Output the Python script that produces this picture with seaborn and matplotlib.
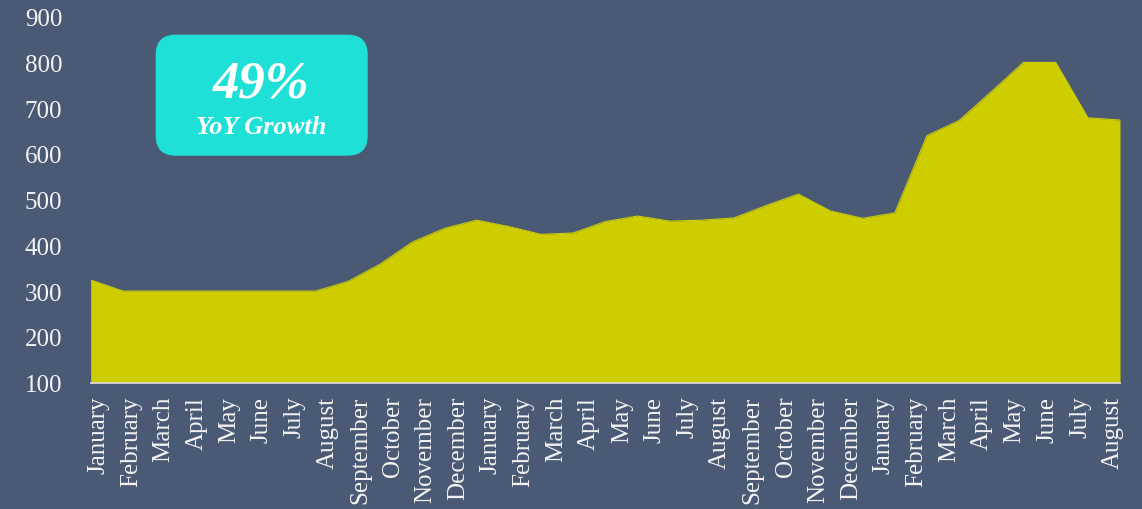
import numpy as np
import pandas as pd
import matplotlib
matplotlib.use("Agg")
import matplotlib.pyplot as plt
import seaborn as sns
from matplotlib.patches import FancyBboxPatch
from matplotlib.transforms import IdentityTransform

# ---- data ----
months = ["January", "February", "March", "April", "May", "June", "July", "August",
          "September", "October", "November", "December",
          "January", "February", "March", "April", "May", "June", "July", "August",
          "September", "October", "November", "December",
          "January", "February", "March", "April", "May", "June", "July", "August"]
values = [324, 300, 300, 300, 300, 300, 300, 300, 321, 359, 407, 437, 455, 441, 424, 427,
          452, 464, 453, 455, 460, 487, 512, 475, 459, 471, 640, 673, 736, 800, 800, 679, 674]
y_ticks = [100, 200, 300, 400, 500, 600, 700, 800, 900]
badge_value = "49%"
badge_label = "YoY Growth"

BG = "#4a5a74"
AREA = "#cdcd00"
BADGE = "#1ee0d6"
TXT = "#f2f2f2"

sns.set_theme(style="white")
plt.rcParams["font.family"] = ["Liberation Serif", "DejaVu Serif"]

df = pd.DataFrame({"pos": np.arange(len(values)), "value": values})

fig = plt.figure(figsize=(11.42, 5.10), dpi=100)
fig.patch.set_facecolor(BG)
ax = fig.add_axes([90.7 / 1142, 1 - 383.5 / 510, (1120 - 90.7) / 1142, (383.5 - 17.7) / 510])
ax.set_facecolor("none")

sns.lineplot(data=df, x="pos", y="value", ax=ax, color=AREA, linewidth=0.8)
ax.fill_between(df["pos"], 100, df["value"], color=AREA, linewidth=0)

ax.set_xlim(0, len(values) - 1)
ax.set_ylim(100, 900)
ax.set_xlabel("")
ax.set_ylabel("")

ax.set_yticks(y_ticks)
ax.set_yticklabels([str(v) for v in y_ticks], fontsize=18, color=TXT)
ax.tick_params(axis="y", length=0, pad=20.5)

label_pos = np.linspace(0.23, 31.78, len(months))
ax.set_xticks(label_pos)
ax.set_xticklabels(months, rotation=90, fontsize=18, color=TXT, va="top", ha="center")
ax.tick_params(axis="x", which="major", length=0, pad=9.5)
ax.set_xticks(np.arange(len(values)), minor=True)
ax.tick_params(axis="x", which="minor", length=2.5, width=1, color="#d9d9d9", direction="out")

for s in ["top", "right", "left"]:
    ax.spines[s].set_visible(False)
ax.spines["bottom"].set_color("#d9d9d9")
ax.spines["bottom"].set_linewidth(1.3)
ax.grid(False)

# badge
H = 510
badge = FancyBboxPatch((155.7, H - 156.7), 212, 121,
                       boxstyle="round,pad=0,rounding_size=20",
                       transform=IdentityTransform(), facecolor=BADGE, edgecolor="none",
                       zorder=5)
fig.patches.append(badge)
fig.text(261.5 / 1142, 1 - 84 / 510, badge_value, fontsize=38, fontweight="bold",
         fontstyle="italic", color="white", ha="center", va="center", zorder=6)
fig.text(261.5 / 1142, 1 - 127 / 510, badge_label, fontsize=19, fontweight="bold",
         fontstyle="italic", color="white", ha="center", va="center", zorder=6)

fig.savefig("out.png", dpi=100, facecolor=BG)
